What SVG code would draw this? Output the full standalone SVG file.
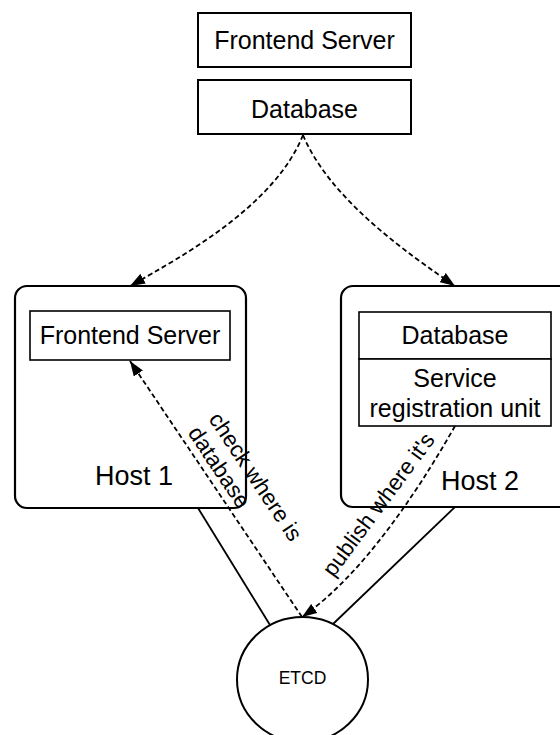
<svg xmlns="http://www.w3.org/2000/svg" width="560" height="735" viewBox="0 0 560 735">
<defs>
<marker id="arrow" viewBox="0 0 15 11" refX="15" refY="5.5" markerWidth="15" markerHeight="11" markerUnits="userSpaceOnUse" orient="auto">
<path d="M0,0 L15,5.5 L0,11 Z" fill="#000"/>
</marker>
<style>
text{font-family:"Liberation Sans",Arial,Helvetica,sans-serif;fill:#000}
.box{fill:#fff;stroke:#000;stroke-width:2}
.inner{fill:#fff;stroke:#000;stroke-width:1.6}
.host{fill:#fff;stroke:#000;stroke-width:2.2}
.lbl{font-size:25px;text-anchor:middle}
.hostlbl{font-size:27px;text-anchor:middle}
.edge{fill:none;stroke:#000;stroke-width:1.8}
.dash{fill:none;stroke:#000;stroke-width:1.8;stroke-dasharray:5 3;marker-end:url(#arrow)}
.elbl{font-size:22.5px}
</style>
</defs>
<g id="host1">
<rect class="host" x="15" y="286" width="231" height="222" rx="12"/>
<text class="hostlbl" x="134" y="485">Host 1</text>
</g>
<g id="host2">
<rect class="host" x="341" y="286" width="231" height="221" rx="12"/>
<text class="hostlbl" x="480" y="490">Host 2</text>
</g>
<g id="top-frontend">
<rect class="box" x="198" y="13" width="213" height="54"/>
<text class="lbl" x="304.5" y="49">Frontend Server</text>
</g>
<g id="top-database">
<rect class="box" x="198" y="80" width="213" height="54"/>
<text class="lbl" x="304.5" y="118">Database</text>
</g>
<g id="h1-frontend">
<rect class="inner" x="30" y="311" width="200" height="49"/>
<text class="lbl" x="130" y="344">Frontend Server</text>
</g>
<g id="h2-database">
<rect class="inner" x="359" y="312" width="192" height="47"/>
<text class="lbl" x="455" y="344">Database</text>
</g>
<g id="h2-sru">
<rect class="inner" x="359" y="359" width="192" height="67"/>
<text class="lbl" x="455" y="387">Service</text>
<text class="lbl" x="455" y="417">registration unit</text>
</g>
<g id="etcd">
<ellipse cx="302.5" cy="679.5" rx="65.5" ry="62.5" fill="#fff" stroke="#000" stroke-width="2"/>
<text x="302.5" y="684" font-size="17.5" text-anchor="middle">ETCD</text>
</g>
<g id="connectors">
<line class="edge" x1="198" y1="508" x2="270" y2="625"/>
<line class="edge" x1="455" y1="507" x2="333" y2="624"/>
<path class="dash" d="M303,135 C275,205 185,255 130,286"/>
<path class="dash" d="M303,135 C330,200 410,255 455,286"/>
<path class="dash" d="M302,617 L130,361"/>
<path class="dash" d="M455,426 C430,470 370,570 302,617"/>
<text class="elbl" transform="translate(208,419) rotate(56.3)"><tspan x="0" y="0">check where is</tspan><tspan x="0" y="25">database</tspan></text>
<text class="elbl" text-anchor="middle" transform="translate(384.6,509) rotate(-53.5)">publish where it's</text>
</g>
</svg>
